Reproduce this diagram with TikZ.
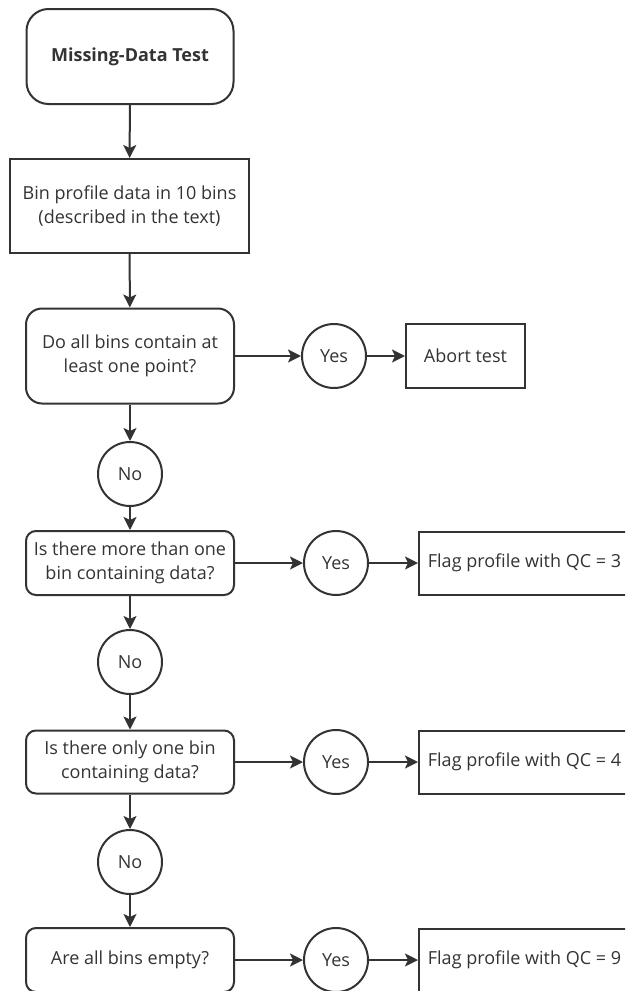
\documentclass[tikz,border=0pt]{standalone}
\usepackage{fontspec}
\setmainfont{Open Sans}
\usetikzlibrary{arrows.meta}
\definecolor{ink}{HTML}{333333}
\begin{document}
\begin{tikzpicture}[x=1pt,y=-1pt,
  every node/.style={font=\fontsize{18}{24}\selectfont, text=ink, inner sep=0pt, align=center},
  box/.style={draw=ink, line width=2pt, rectangle},
  rbox/.style={box, rounded corners=#1},
  rbox/.default=10pt,
  answer/.style={draw=ink, line width=2pt, circle, minimum size=64pt},
  arr/.style={draw=ink, line width=2pt, -{Stealth[length=13pt,width=13pt,inset=3pt]}}
]
\useasboundingbox (0,0) rectangle (625,991);
\clip (0,0) rectangle (625,991);

% main column
\node[rbox=22pt, minimum width=207pt, minimum height=95pt, font=\fontsize{18}{24}\selectfont\bfseries] (start) at (130,56.5) {Missing-Data Test};
\node[box, minimum width=239pt, minimum height=94pt] (bin) at (129.5,206) {Bin profile data in 10 bins\\(described in the text)};
\node[rbox=16pt, minimum width=208pt, minimum height=95pt] (q1) at (130,356) {Do all bins contain at\\least one point?};
\node[answer] (no1) at (130,474) {No};
\node[rbox, minimum width=208pt, minimum height=64pt] (q2) at (130,563) {Is there more than one\\bin containing data?};
\node[answer] (no2) at (130,662) {No};
\node[rbox, minimum width=208pt, minimum height=63pt] (q3) at (130,762) {Is there only one bin\\containing data?};
\node[answer] (no3) at (130,862) {No};
\node[rbox, minimum width=208pt, minimum height=64pt] (q4) at (130,960) {Are all bins empty?};

% yes branches
\node[answer] (y1) at (334,356) {Yes};
\node[answer] (y2) at (336,563) {Yes};
\node[answer] (y3) at (336,762) {Yes};
\node[answer] (y4) at (336,960) {Yes};

% outcomes
\node[box, minimum width=119pt, minimum height=64pt] (abort) at (465.5,356) {Abort test};
\node[box, minimum width=211pt, minimum height=63pt] (qc3) at (524.5,563) {Flag profile with QC = 3};
\node[box, minimum width=211pt, minimum height=63pt] (qc4) at (524.5,762) {Flag profile with QC = 4};
\node[box, minimum width=211pt, minimum height=63pt] (qc9) at (524.5,960) {Flag profile with QC = 9};

% connectors
\draw[arr] (start) -- (bin);
\draw[arr] (bin) -- (q1);
\draw[arr] (q1) -- (no1);
\draw[arr] (no1) -- (q2);
\draw[arr] (q2) -- (no2);
\draw[arr] (no2) -- (q3);
\draw[arr] (q3) -- (no3);
\draw[arr] (no3) -- (q4);

\draw[arr] (q1) -- (y1);
\draw[arr] (y1) -- (abort);
\draw[arr] (q2) -- (y2);
\draw[arr] (y2) -- (qc3);
\draw[arr] (q3) -- (y3);
\draw[arr] (y3) -- (qc4);
\draw[arr] (q4) -- (y4);
\draw[arr] (y4) -- (qc9);
\end{tikzpicture}
\end{document}
